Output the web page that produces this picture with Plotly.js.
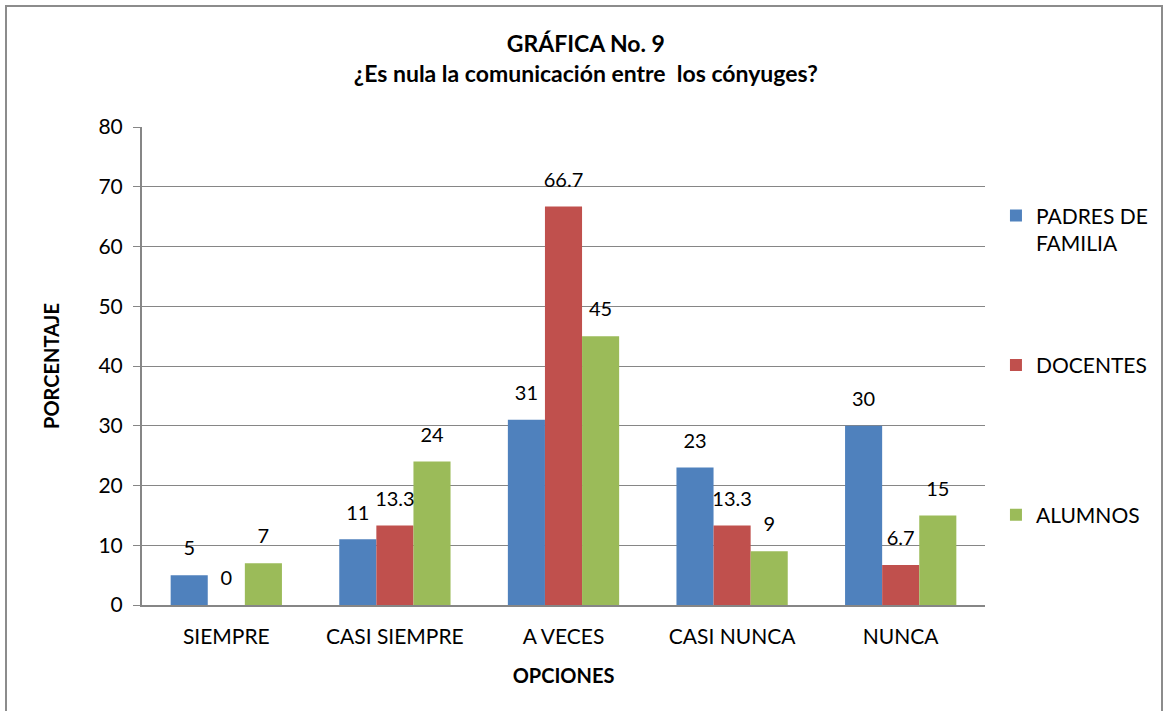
<!DOCTYPE html>
<html>
<head>
<meta charset="utf-8">
<script src="https://cdn.plot.ly/plotly-3.0.1.min.js"></script>
<style>
  body { margin: 0; background: #fff; }
  #wrap { position: relative; width: 1167px; height: 711px; overflow: hidden; }
  #chart { width: 1167px; height: 711px; }
  #frame { position: absolute; left: 5px; top: 5px; width: 1158px; height: 760px;
           border: 2px solid #8c8c8c; pointer-events: none; box-sizing: border-box; }
</style>
</head>
<body>
<div id="wrap"><div id="chart"></div><div id="frame"></div></div>
<script>
const categories = ["SIEMPRE", "CASI SIEMPRE", "A VECES", "CASI NUNCA", "NUNCA"];
const seriesNames = ["PADRES DE<br>FAMILIA", "DOCENTES<br>&nbsp;", "ALUMNOS"];
const padres = [5, 11, 31, 23, 30];
const docentes = [0, 13.3, 66.7, 13.3, 6.7];
const alumnos = [7, 24, 45, 9, 15];
const yTicks = [0, 10, 20, 30, 40, 50, 60, 70, 80];

const colors = ["#4F81BD", "#C0504D", "#9BBB59"];
const values = [padres, docentes, alumnos];
const FONT = "Lato, 'Liberation Sans', sans-serif";

const traces = [];
values.forEach((vals, i) => {
  traces.push({
    type: "bar", x: categories, y: vals, name: seriesNames[i],
    marker: { color: colors[i] }, legendgroup: "g" + i,
    offsetgroup: String(i), hoverinfo: "y"
  });
});
values.forEach((vals, i) => {
  traces.push({
    type: "scatter", mode: "markers+text", x: categories, y: vals,
    text: vals.map(v => String(v)), textposition: "top center",
    textfont: { family: FONT, size: 20, color: "#000" },
    marker: { size: 22, opacity: 0 }, showlegend: false,
    offsetgroup: String(i), cliponaxis: false, hoverinfo: "skip"
  });
});

const layout = {
  width: 1167, height: 711,
  margin: { l: 142, r: 182, t: 127, b: 106 },
  paper_bgcolor: "#fff", plot_bgcolor: "#fff",
  font: { family: FONT, size: 21, color: "#000" },
  title: {
    text: "<b>GRÁFICA No. 9<br>¿Es nula la comunicación entre  los cónyuges?</b>",
    x: 0.502, xref: "container", xanchor: "center", yref: "container", y: 0.927, yanchor: "middle",
    font: { family: FONT, size: 23, color: "#000" }
  },
  barmode: "group", bargap: 0.34, bargroupgap: 0,
  scattermode: "group", scattergap: 0.34,
  xaxis: {
    type: "category", showgrid: false, showline: true, linecolor: "#868686", linewidth: 2,
    ticks: "", ticklabelstandoff: 12, tickfont: { family: FONT, size: 21, color: "#000" },
    title: { text: "<b>OPCIONES</b>", font: { family: FONT, size: 20, color: "#000" }, standoff: 22 },
    fixedrange: true
  },
  yaxis: {
    range: [0, 80], tickvals: yTicks, ticktext: yTicks.map(String),
    showgrid: true, gridcolor: "#868686", gridwidth: 1,
    showline: true, linecolor: "#868686", linewidth: 2,
    ticks: "outside", ticklen: 7, tickcolor: "#868686", tickwidth: 1,
    ticklabelstandoff: 6, zeroline: false,
    tickfont: { family: FONT, size: 21, color: "#000" },
    title: { text: "<b>PORCENTAJE</b>", font: { family: FONT, size: 20, color: "#000" }, standoff: 33 },
    fixedrange: true
  },
  legend: {
    x: 1.013, xanchor: "left", y: 0.857, yanchor: "top",
    traceorder: "grouped", tracegroupgap: 92, valign: "top",
    font: { family: FONT, size: 21, color: "#000" },
    itemwidth: 30
  },
  showlegend: true
};

Plotly.newPlot("chart", traces, layout, { displayModeBar: false, staticPlot: true });
</script>
</body>
</html>
